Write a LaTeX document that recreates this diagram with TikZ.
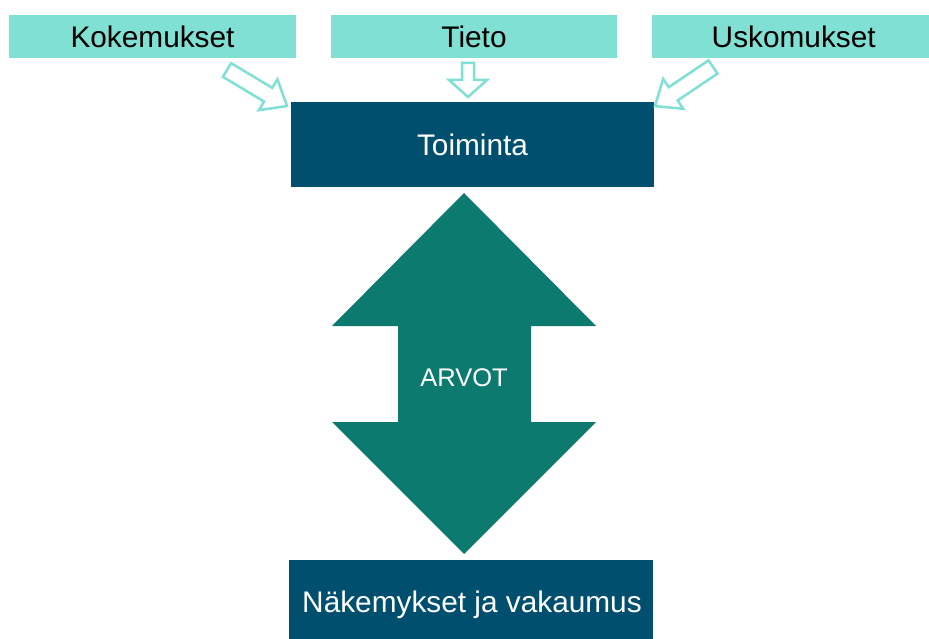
\documentclass[tikz,border=0pt]{standalone}
\usepackage{fontspec}
\setmainfont{Liberation Sans}
\definecolor{aqua}{HTML}{80E0D3}
\definecolor{navy}{HTML}{004F6E}
\definecolor{teal2}{HTML}{0D7A6F}
\begin{document}
\begin{tikzpicture}[x=1pt,y=-1pt,
  topbox/.style={fill=aqua,draw=none,minimum height=43pt,inner sep=0pt,font=\fontsize{29.8}{31}\selectfont,text=black},
  darkbox/.style={fill=navy,draw=none,inner sep=0pt,font=\fontsize{29.8}{31}\selectfont,text=white},
  hollow/.style={draw=aqua,fill=white,line width=2.5pt,line join=miter}]
\useasboundingbox (0,0) rectangle (929,639);
% top boxes
\node[topbox,minimum width=287pt] (kok) at (152.5,36.5) {Kokemukset};
\node[topbox,minimum width=286pt] (tie) at (474,36.5) {Tieto};
\node[topbox,minimum width=277pt,anchor=west] (usk) at (652,36.5) {\hspace*{6pt}Uskomukset};
% dark boxes
\node[darkbox,minimum width=363pt,minimum height=85pt] (toim) at (472.5,144.5) {Toiminta};
\path[fill=navy] (289,560) rectangle (653,639);
\node[darkbox,fill=none] (nak) at (472,605) {Näkemykset ja vakaumus};
% big double arrow
\fill[teal2] (464,193) -- (596,326) -- (531,326) -- (531,422) -- (596,422) -- (464,554)
  -- (332,422) -- (398,422) -- (398,326) -- (332,326) -- cycle;
\node[font=\fontsize{25.5}{26}\selectfont,text=white] (arvot) at (464,378) {ARVOT};
% hollow arrows
\begin{scope}[shift={(227,70)},rotate=-31]
\draw[hollow] (0,-8) -- (48,-8) -- (48,-18) -- (70,0) -- (48,18) -- (48,8) -- (0,8) -- cycle;
\end{scope}
\begin{scope}[shift={(468,63)},rotate=-90]
\draw[hollow] (0,-6) -- (17,-6) -- (17,-19) -- (34,0) -- (17,19) -- (17,6) -- (0,6) -- cycle;
\end{scope}
\begin{scope}[shift={(713,67)},rotate=214]
\draw[hollow] (0,-8) -- (48,-8) -- (48,-18) -- (70,0) -- (48,18) -- (48,8) -- (0,8) -- cycle;
\end{scope}
\end{tikzpicture}
\end{document}
